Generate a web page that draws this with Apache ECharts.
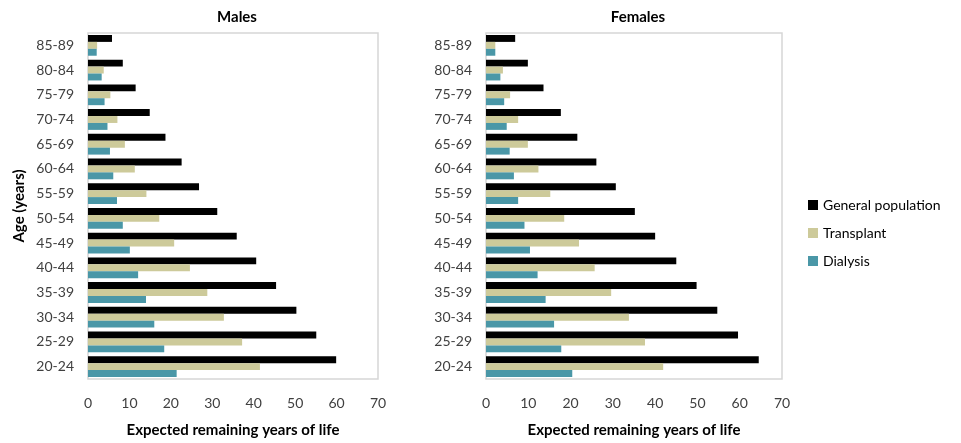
<!DOCTYPE html>
<html>
<head>
<meta charset="utf-8">
<script src="https://cdn.jsdelivr.net/npm/echarts@6/dist/echarts.min.js"></script>
<style>html,body{margin:0;padding:0;background:#fff}#c{width:961px;height:443px}</style>
</head>
<body>
<div id="c"></div>
<script>
var ageGroups = ['20-24','25-29','30-34','35-39','40-44','45-49','50-54','55-59','60-64','65-69','70-74','75-79','80-84','85-89'];
var xTicks = [0,10,20,30,40,50,60,70];
var seriesNames = ['General population','Transplant','Dialysis'];
var maleGeneral    = [59.9,55.1,50.3,45.4,40.6,35.9,31.2,26.8,22.6,18.7,14.9,11.5,8.4,5.8];
var maleTransplant = [41.5,37.2,32.8,28.8,24.6,20.8,17.2,14.1,11.3,8.9,7.1,5.4,3.8,2.2];
var maleDialysis   = [21.4,18.4,16.0,14.0,12.1,10.1,8.4,7.0,6.1,5.3,4.7,4.0,3.3,2.1];
var femaleGeneral    = [64.5,59.6,54.7,49.8,45.0,40.0,35.2,30.7,26.1,21.6,17.7,13.6,9.9,6.9];
var femaleTransplant = [41.9,37.6,33.8,29.6,25.7,22.0,18.5,15.2,12.4,9.9,7.6,5.7,4.0,2.2];
var femaleDialysis   = [20.4,17.8,16.1,14.1,12.2,10.4,9.1,7.6,6.6,5.6,4.9,4.3,3.4,2.2];

var colors = {'General population':'#000000','Transplant':'#cdca9a','Dialysis':'#4a97a7'};
var FONT = 'Lato';
var chart = echarts.init(document.getElementById('c'), null, {renderer:'canvas'});

function xAxisCfg(idx){
  return {gridIndex: idx, type:'value', min:xTicks[0], max:xTicks[xTicks.length-1], interval:10,
    splitLine:{show:false}, axisLine:{show:false}, axisTick:{show:false},
    axisLabel:{color:'#404040', fontSize:14, fontFamily:FONT, margin:17},
    name:'Expected remaining years of life', nameLocation:'middle', nameGap:44,
    nameTextStyle:{color:'#000', fontSize:15, fontWeight:'bold', fontFamily:FONT}};
}
function yAxisCfg(idx){
  var o = {gridIndex: idx, type:'category', data: ageGroups,
    axisLine:{show:false}, axisTick:{show:false}, splitLine:{show:false},
    axisLabel:{color:'#404040', fontSize:14, fontFamily:FONT, margin:14}};
  if(idx===0){
    o.name='Age (years)'; o.nameLocation='middle'; o.nameGap=61; o.nameRotate=90;
    o.nameTextStyle={color:'#000', fontSize:15, fontWeight:'bold', fontFamily:FONT};
  }
  return o;
}
function barSeries(name, data, idx){
  return {name:name, type:'bar', xAxisIndex:idx, yAxisIndex:idx, data:data,
    barGap:'0%', barCategoryGap:'16%',
    itemStyle:{color:colors[name]}};
}

chart.setOption({
  animation:false,
  title:[
    {text:'Males', left:232, top:5, textAlign:'center', textStyle:{fontSize:15, fontWeight:'bold', fontFamily:FONT, color:'#000'}},
    {text:'Females', left:633, top:5, textAlign:'center', textStyle:{fontSize:15, fontWeight:'bold', fontFamily:FONT, color:'#000'}}
  ],
  legend:{orient:'vertical', left:803, top:193, itemWidth:10, itemHeight:10, itemGap:14,
    data: seriesNames, icon:'rect',
    textStyle:{color:'#000', fontSize:14, fontFamily:FONT}},
  grid:[
    {left:88, right:583, top:33, bottom:58, show:true, borderColor:'#d6d6d6', borderWidth:1.5, containLabel:false},
    {left:486, right:179, top:33, bottom:58, show:true, borderColor:'#d6d6d6', borderWidth:1.5, containLabel:false}
  ],
  xAxis:[xAxisCfg(0), xAxisCfg(1)],
  yAxis:[yAxisCfg(0), yAxisCfg(1)],
  series:[
    barSeries('General population', maleGeneral, 0),
    barSeries('Transplant', maleTransplant, 0),
    barSeries('Dialysis', maleDialysis, 0),
    barSeries('General population', femaleGeneral, 1),
    barSeries('Transplant', femaleTransplant, 1),
    barSeries('Dialysis', femaleDialysis, 1)
  ]
});
</script>
</body>
</html>
